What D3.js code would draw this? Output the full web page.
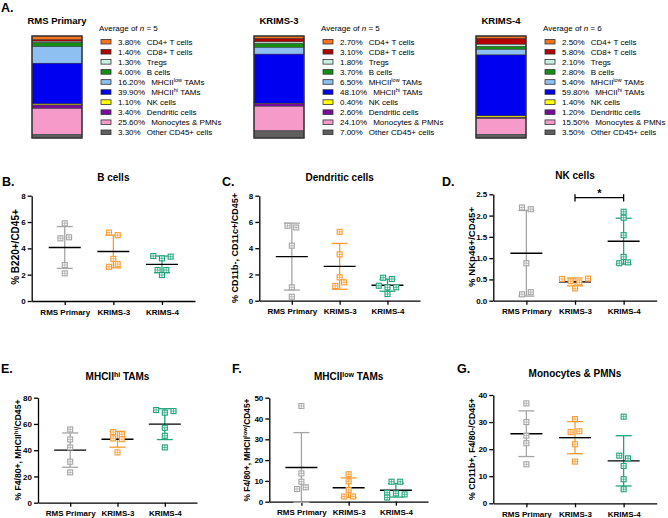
<!DOCTYPE html>
<html>
<head>
<meta charset="utf-8">
<script src="https://cdn.jsdelivr.net/npm/d3@7"></script>
<style>
  body { margin: 0; background: #fff; }
  svg { font-family: Arial, "Liberation Sans", Helvetica, sans-serif; }
</style>
</head>
<body>
<svg id="fig" width="668" height="518"></svg>
<script>
// groups and their colours
var groups = ["RMS Primary", "KRIMS-3", "KRIMS-4"];
var groupColors = ["#a5a5a5", "#ff9a2e", "#1fa57a"];
var groupN = [5, 5, 6];

// panel A: average composition of CD45+ cells (%)
var cellLabels = [
  [["CD4+ T cells"]], [["CD8+ T cells"]], [["Tregs"]], [["B cells"]],
  [["MHCII"], ["low", 1], [" TAMs"]], [["MHCII"], ["hi", 1], [" TAMs"]],
  [["NK cells"]], [["Dendritic cells"]], [["Monocytes & PMNs"]], [["Other CD45+ cells"]]
];
var cellColors = ["#f7741c", "#b30000", "#c9f1e1", "#128f12", "#8fc0f2",
                  "#0000f0", "#ffff00", "#7a0c9c", "#f59ac9", "#5f5f5f"];
var compRMS = [3.8, 1.4, 1.3, 4.0, 16.2, 39.9, 1.1, 3.4, 25.6, 3.3];
var compK3  = [2.7, 3.1, 1.8, 3.7, 6.5, 48.1, 0.4, 2.6, 24.1, 7.0];
var compK4  = [2.5, 5.8, 2.1, 2.8, 5.4, 59.8, 1.4, 1.2, 15.5, 3.5];

// panels B-G: per-tumour values, one array per group
var bCells     = [[5.9, 4.76, 4.84, 2.73, 2.1], [5.2, 5.0, 3.2, 2.6, 2.8], [3.42, 3.24, 3.37, 2.35, 2.35, 1.97]];
var dendritic  = [[5.71, 5.58, 4.19, 1.02, 0.30], [5.25, 3.53, 1.78, 1.12, 1.40], [1.75, 1.65, 1.14, 1.02, 1.02, 0.51]];
var nkCells    = [[2.19, 2.15, 0.88, 0.15, 0.20], [0.51, 0.46, 0.43, 0.52, 0.29], [2.09, 1.95, 1.54, 1.03, 0.88, 0.90]];
var mhcHiTams  = [[55.8, 48.2, 42.1, 31.2, 23.1], [53.8, 52.2, 49.0, 48.4, 38.3], [70.6, 68.6, 69.8, 57.1, 51.0, 42.1]];
var mhcLowTams = [[46.0, 13.6, 9.6, 6.1, 6.9], [13.2, 9.8, 5.7, 2.5, 2.5], [9.6, 9.6, 4.3, 4.0, 3.5, 2.0]];
var monoPmn    = [[36.9, 30.0, 25.0, 22.2, 14.4], [31.1, 26.3, 26.6, 21.8, 15.4], [32.0, 17.6, 16.6, 13.8, 8.9, 5.2]];

var svg = d3.select("#fig");

// writes text made of parts; a part flagged 1 is a superscript
function rich(sel, parts, supSize, dx) {
  var shift = 0;
  parts.forEach(function(p, k) {
    var t = sel.append("tspan").text(p[0]);
    if (k === 0 && dx) t.attr("dx", dx);
    if (p[1]) { t.attr("dy", -3).style("font-size", supSize + "px"); shift = 3; }
    else if (shift) { t.attr("dy", shift); shift = 0; }
  });
  return sel;
}

function letter(txt, x, y) {
  svg.append("text").attr("x", x).attr("y", y).text(txt)
    .style("font-size", "12.5px").style("font-weight", "bold");
}

// ---------- panel A ----------
letter("A.", 1, 12);
var comps = [compRMS, compK3, compK4];
var barLeft = [32, 254, 476], barW = 50;
var ys = d3.scaleLinear().domain([0, 100]).range([36, 138]);
var rowY = d3.scalePoint().domain(d3.range(cellLabels.length)).range([41.7, 132.3]);
var pct = d3.format(".2f");

comps.forEach(function(comp, gi) {
  var g = svg.append("g");
  var bx = barLeft[gi], lx = bx + barW + 19;
  var ends = d3.cumsum(comp);

  g.append("text").attr("x", bx + barW / 2).attr("y", 24).attr("text-anchor", "middle")
    .style("font-size", "9.5px").style("font-weight", "bold").text(groups[gi]);

  g.selectAll("rect.seg").data(comp).join("rect").attr("class", "seg")
    .attr("x", bx).attr("width", barW)
    .attr("y", function(v, i) { return ys(ends[i] - v); })
    .attr("height", function(v) { return ys(v) - ys(0); })
    .attr("fill", function(v, i) { return cellColors[i]; })
    .attr("stroke", "#333").attr("stroke-width", 0.5);
  g.append("rect").attr("x", bx).attr("y", ys(0)).attr("width", barW).attr("height", ys(100) - ys(0))
    .attr("fill", "none").attr("stroke", "#333").attr("stroke-width", 1.4);

  var avg = g.append("text").attr("x", lx - 2).attr("y", 31).style("font-size", "8px");
  avg.append("tspan").text("Average of ");
  avg.append("tspan").style("font-style", "italic").text("n");
  avg.append("tspan").text(" = " + groupN[gi]);

  var rows = g.selectAll("g.row").data(comp).join("g").attr("class", "row")
    .attr("transform", function(v, i) { return "translate(" + lx + "," + rowY(i) + ")"; });
  rows.append("rect").attr("x", 0).attr("y", -2.3).attr("width", 10).attr("height", 4.6)
    .attr("fill", function(v, i) { return cellColors[i]; })
    .attr("stroke", "#333").attr("stroke-width", 0.8);
  rows.append("text").attr("x", 17).attr("y", 2.9).style("font-size", "8px")
    .each(function(v, i) {
      var t = d3.select(this);
      t.append("tspan").text(pct(v) + "%");
      rich(t, cellLabels[i], 5.5, 6);
    });
});

// ---------- panels B-G ----------
var panels = [
  { key: "B.", kx: 2, ky: 186, data: bCells, title: [["B cells"]], ylab: [["% B220+/CD45+"]], tOff: 15,
    max: 8, ticks: [0, 2, 4, 6, 8], fmt: "d", x0: 31.7, x1: 195, y0: 301, y1: 195.7, labX: 15, labY: 247, labSize: 10 },
  { key: "C.", kx: 222, ky: 186, data: dendritic, title: [["Dendritic cells"]], ylab: [["% CD11b-, CD11c+/CD45+"]], tOff: 15,
    max: 8, ticks: [0, 2, 4, 6, 8], fmt: "d", x0: 259.3, x1: 420, y0: 300.7, y1: 195.7, labX: 235, labY: 248, labSize: 9 },
  { key: "D.", kx: 442, ky: 186, data: nkCells, title: [["NK cells"]], ylab: [["% NKp46+/CD45+"]], tOff: 15,
    max: 2.5, ticks: [0, 0.5, 1, 1.5, 2, 2.5], fmt: ".1f", x0: 493.3, x1: 656.7, y0: 300.7, y1: 194.3, labX: 471.7, labY: 247, labSize: 9.6, sig: [1, 2] },
  { key: "E.", kx: 1, ky: 373, data: mhcHiTams, title: [["MHCII"], ["hi", 1], [" TAMs"]], ylab: [["% F4/80+, MHCII"], ["hi", 1], ["/CD45+"]], tOff: 18,
    max: 80, ticks: [0, 20, 40, 60, 80], fmt: "d", x0: 38, x1: 197, y0: 502.7, y1: 397.7, labX: 18.3, labY: 450, labSize: 8.6 },
  { key: "F.", kx: 232, ky: 373, data: mhcLowTams, title: [["MHCII"], ["low", 1], [" TAMs"]], ylab: [["% F4/80+, MHCII"], ["low", 1], ["/CD45+"]], tOff: 18,
    max: 50, ticks: [0, 10, 20, 30, 40, 50], fmt: "d", x0: 269.3, x1: 428, y0: 501.7, y1: 397.7, labX: 246.7, labY: 450, labSize: 8.4 },
  { key: "G.", kx: 457, ky: 373, data: monoPmn, title: [["Monocytes & PMNs"]], ylab: [["% CD11b+, F4/80-/CD45+"]], tOff: 18,
    max: 40, ticks: [0, 10, 20, 30, 40], fmt: "d", x0: 493.3, x1: 656.7, y0: 503.3, y1: 395, labX: 471.7, labY: 449, labSize: 8.7 }
];

var step = 8.7, gap = 4.5;

// GraphPad-like spreading of points that would overlap
function swarm(values, y) {
  var idx = values.map(function(v, i) { return i; })
    .sort(function(a, b) { return values[b] - values[a] || a - b; });
  var rows = [], cur = null;
  idx.forEach(function(i) {
    if (cur && Math.abs(y(values[i]) - y(values[cur[0]])) < gap) cur.push(i);
    else { cur = [i]; rows.push(cur); }
  });
  var off = [], placed = [];
  rows.forEach(function(r) {
    r.slice().sort(function(a, b) { return a - b; }).forEach(function(i, k) {
      var o = (k - (r.length - 1) / 2) * step, py = y(values[i]);
      var tries = [o, o - step, o + step, o - 2 * step, o + 2 * step];
      var free = tries.find(function(t) {
        return !placed.some(function(p) { return Math.abs(p.o - t) < gap + 0.5 && Math.abs(p.y - py) < gap; });
      });
      off[i] = free === undefined ? o : free;
      placed.push({ o: off[i], y: py });
    });
  });
  return off;
}

panels.forEach(function(p) {
  var g = svg.append("g");
  var y = d3.scaleLinear().domain([0, p.max]).range([p.y0, p.y1]);
  var x = d3.scalePoint().domain(groups).range([p.x0, p.x1]).padding(0.68);

  letter(p.key, p.kx, p.ky);

  rich(g.append("text").attr("x", x(groups[1])).attr("y", p.y1 - p.tOff).attr("text-anchor", "middle")
    .style("font-size", "10px").style("font-weight", "bold"), p.title, 7);

  rich(g.append("text").attr("transform", "translate(" + p.labX + "," + p.labY + ") rotate(-90)")
    .attr("text-anchor", "middle").attr("dy", "0.35em")
    .style("font-size", p.labSize + "px").style("font-weight", "bold"), p.ylab, p.labSize * 0.7);

  var yAxis = g.append("g").attr("transform", "translate(" + p.x0 + ",0)")
    .call(d3.axisLeft(y).tickValues(p.ticks).tickFormat(d3.format(p.fmt)).tickSize(4).tickSizeOuter(0));
  var xAxis = g.append("g").attr("transform", "translate(0," + p.y0 + ")")
    .call(d3.axisBottom(x).tickSize(4).tickSizeOuter(0));
  [yAxis, xAxis].forEach(function(a) {
    a.selectAll("path, line").attr("stroke", "#000").attr("stroke-width", 1.3);
    a.selectAll("text").attr("fill", "#000").style("font-size", "8px").style("font-weight", "bold")
      .style("font-family", "Arial, 'Liberation Sans', sans-serif");
  });
  yAxis.selectAll("text").attr("x", -6);
  xAxis.selectAll("text").attr("y", 8);

  p.data.forEach(function(vals, gi) {
    var cx = x(groups[gi]), col = groupColors[gi];
    var m = d3.mean(vals), sd = d3.deviation(vals);
    var eb = g.append("g").attr("stroke", col).attr("stroke-width", 1.3);
    eb.append("line").attr("x1", cx).attr("x2", cx).attr("y1", y(m - sd)).attr("y2", y(m + sd));
    [m - sd, m + sd].forEach(function(v) {
      eb.append("line").attr("x1", cx - 8).attr("x2", cx + 8).attr("y1", y(v)).attr("y2", y(v));
    });
    g.append("line").attr("x1", cx - 16).attr("x2", cx + 16).attr("y1", y(m)).attr("y2", y(m))
      .attr("stroke", "#000").attr("stroke-width", 1.4);

    var off = swarm(vals, y);
    var pts = g.selectAll(null).data(vals).join("g")
      .attr("transform", function(v, i) { return "translate(" + (cx + off[i]) + "," + y(v) + ")"; });
    pts.append("rect").attr("x", -2.5).attr("y", -2.5).attr("width", 5).attr("height", 5)
      .attr("fill", "#fff").attr("stroke", col).attr("stroke-width", 1.1);
    pts.append("path").attr("d", "M-2.5,0H2.5M0,-2.5V2.5").attr("stroke", col).attr("stroke-width", 0.7);
  });

  if (p.sig) {
    var sx1 = x(groups[p.sig[0]]), sx2 = x(groups[p.sig[1]]), sy = p.y1 + 3.4;
    var s = g.append("g").attr("stroke", "#000").attr("stroke-width", 1.3);
    s.append("line").attr("x1", sx1).attr("x2", sx2).attr("y1", sy).attr("y2", sy);
    s.append("line").attr("x1", sx1).attr("x2", sx1).attr("y1", sy - 3.5).attr("y2", sy + 3.8);
    s.append("line").attr("x1", sx2).attr("x2", sx2).attr("y1", sy - 3.5).attr("y2", sy + 3.8);
    g.append("text").attr("x", (sx1 + sx2) / 2).attr("y", sy - 1).attr("text-anchor", "middle")
      .style("font-size", "11px").style("font-weight", "bold").text("*");
  }
});
</script>
</body>
</html>
